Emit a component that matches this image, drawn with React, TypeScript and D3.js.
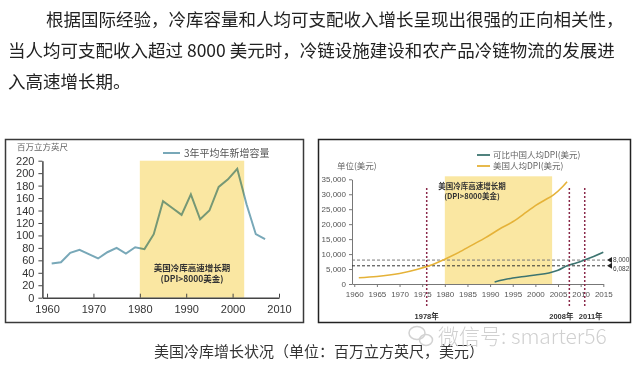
import { useEffect, useRef } from "react";
import * as d3 from "d3";

// page text
const paragraphLines = [
  "根据国际经验，冷库容量和人均可支配收入增长呈现出很强的正向相关性，",
  "当人均可支配收入超过 8000 美元时，冷链设施建设和农产品冷链物流的发展进",
  "入高速增长期。",
];
const caption = "美国冷库增长状况（单位：百万立方英尺，美元）";
const watermark = "微信号: smarter56";

// left chart: 3-year average new cold storage capacity
const capYears = [1961, 1963, 1965, 1967, 1969, 1971, 1973, 1975, 1977, 1979, 1981, 1983, 1985, 1987, 1989, 1991, 1993, 1995, 1997, 1999, 2001, 2003, 2005, 2007];
const capValues = [55, 57, 72, 77, 70, 63, 73, 80, 71, 81, 78, 102, 155, 144, 133, 166, 126, 140, 178, 190, 207, 150, 102, 94];
const leftYTicks = [0, 20, 40, 60, 80, 100, 120, 140, 160, 180, 200, 220];
const leftXTicks = [1960, 1970, 1980, 1990, 2000, 2010];
const leftBand = [1980, 2002.5];
const leftBandText = ["美国冷库高速增长期", "(DPI>8000美金)"];

// right chart: per capita DPI
const usYears = [1961, 1965, 1970, 1974, 1978, 1980, 1983, 1986, 1989, 1992, 1995, 1998, 2000, 2002, 2004, 2006, 2007];
const usValues = [2100, 2500, 3500, 4900, 6900, 8300, 10500, 13000, 15500, 18300, 20800, 24000, 26200, 28000, 29800, 32500, 34200];
const cnYears = [1991, 1993, 1995, 1998, 2000, 2003, 2005, 2007, 2009, 2011, 2013, 2015];
const cnValues = [700, 1400, 2000, 2600, 3000, 3700, 4600, 6100, 7000, 8100, 9300, 10600];
const rightYTicks = [0, 5000, 10000, 15000, 20000, 25000, 30000, 35000];
const rightXTicks = [1960, 1965, 1970, 1975, 1980, 1985, 1990, 1995, 2000, 2005, 2010, 2015];
const rightBand = [1980, 2003.7];
const rightBandTop = 36000;
const refValues = [8000, 6082];
const refLabels = ["8,000", "6,082"];
const markYears = [1976, 2007.5, 2010.9];
const markLabels = ["1978年", "2008年", "2011年"];
const rightLegend = ["可比中国人均DPI(美元)", "美国人均DPI(美元)"];

const CJK = "'Noto Sans CJK SC', sans-serif";
const SANS = "'Liberation Sans', 'Noto Sans CJK SC', sans-serif";

export default function App() {
  const svgRef = useRef<SVGSVGElement>(null);

  useEffect(() => {
    if (!svgRef.current) return;
    const svg = d3.select(svgRef.current);
    svg.selectAll("*").remove();

    // paragraph
    svg
      .selectAll("text.para")
      .data(paragraphLines)
      .join("text")
      .attr("class", "para")
      .attr("x", (_, i) => (i === 0 ? 46 : 8))
      .attr("y", (_, i) => 26 + i * 31)
      .attr("font-family", CJK)
      .attr("font-size", 17.5)
      .attr("fill", "#222")
      .text((d) => d);

    // ---------- left chart ----------
    const lx = d3.scaleLinear().domain([1959, 2010]).range([42.4, 279]);
    const ly = d3.scaleLinear().domain([0, 220]).range([297.7, 160.7]);
    const left = svg.append("g");

    left
      .append("rect")
      .attr("x", 5.5)
      .attr("y", 139.5)
      .attr("width", 298)
      .attr("height", 183)
      .attr("fill", "#fff")
      .attr("stroke", "#3a3a3a")
      .attr("stroke-width", 1.5);

    const capData = capYears.map((y, i) => ({ x: y, y: capValues[i] }));
    left
      .append("path")
      .datum(capData)
      .attr("fill", "none")
      .attr("stroke", "#78a8b8")
      .attr("stroke-width", 2)
      .attr("d", d3.line<{ x: number; y: number }>().x((d) => lx(d.x)).y((d) => ly(d.y)));

    left
      .append("rect")
      .attr("x", lx(leftBand[0]))
      .attr("y", ly(220))
      .attr("width", lx(leftBand[1]) - lx(leftBand[0]))
      .attr("height", ly(0) - ly(220))
      .attr("fill", "#fae7a2")
      .style("mix-blend-mode", "multiply");

    left
      .selectAll("text.band")
      .data(leftBandText)
      .join("text")
      .attr("x", (lx(leftBand[0]) + lx(leftBand[1])) / 2)
      .attr("y", (_, i) => 271 + i * 10.5)
      .attr("text-anchor", "middle")
      .attr("font-family", CJK)
      .attr("font-size", 8.5)
      .attr("font-weight", "bold")
      .attr("fill", "#333")
      .text((d) => d);

    const lyAxis = left
      .append("g")
      .attr("transform", `translate(${lx(1959)},0)`)
      .call(d3.axisLeft(ly).tickValues(leftYTicks).tickSize(4).tickSizeOuter(0).tickPadding(4));
    const lxAxis = left
      .append("g")
      .attr("transform", `translate(0,${ly(0)})`)
      .call(
        d3
          .axisBottom(lx)
          .tickValues(leftXTicks)
          .tickSize(-4)
          .tickSizeOuter(0)
          .tickPadding(8)
          .tickFormat(d3.format("d"))
      );
    [lyAxis, lxAxis].forEach((g) => {
      g.attr("font-family", SANS).attr("font-size", 11).attr("color", "#444");
      g.selectAll("text").attr("fill", "#333");
      g.select(".domain").attr("stroke-width", 1.5);
    });

    left
      .append("text")
      .attr("x", 17)
      .attr("y", 150)
      .attr("font-family", CJK)
      .attr("font-size", 8.5)
      .attr("fill", "#666")
      .text("百万立方英尺");

    left
      .append("line")
      .attr("x1", 163)
      .attr("x2", 180)
      .attr("y1", 153)
      .attr("y2", 153)
      .attr("stroke", "#78a8b8")
      .attr("stroke-width", 2);
    left
      .append("text")
      .attr("x", 184)
      .attr("y", 156.5)
      .attr("font-family", CJK)
      .attr("font-size", 10)
      .attr("fill", "#555")
      .text("3年平均年新增容量");

    // ---------- right chart ----------
    const rx = d3.scaleLinear().domain([1959.5, 2015]).range([352, 603.3]);
    const ry = d3.scaleLinear().domain([0, 35000]).range([284, 179.3]);
    const right = svg.append("g");

    right
      .append("rect")
      .attr("x", 318.5)
      .attr("y", 139.5)
      .attr("width", 312)
      .attr("height", 183)
      .attr("fill", "#fff")
      .attr("stroke", "#222")
      .attr("stroke-width", 1.5);

    right
      .append("rect")
      .attr("x", rx(rightBand[0]))
      .attr("y", ry(rightBandTop))
      .attr("width", rx(rightBand[1]) - rx(rightBand[0]))
      .attr("height", ry(0) - ry(rightBandTop))
      .attr("fill", "#fae7a2");

    right
      .selectAll("text.band")
      .data(leftBandText)
      .join("text")
      .attr("x", 472)
      .attr("y", (_, i) => 189 + i * 10)
      .attr("text-anchor", "middle")
      .attr("font-family", CJK)
      .attr("font-size", 7.5)
      .attr("font-weight", "bold")
      .attr("fill", "#333")
      .text((d) => d);

    const ryAxis = right
      .append("g")
      .attr("transform", `translate(${rx(1959.5)},0)`)
      .call(
        d3
          .axisLeft(ry)
          .tickValues(rightYTicks)
          .tickSize(3)
          .tickSizeOuter(0)
          .tickPadding(3)
          .tickFormat((d) => d3.format(",")(d as number))
      );
    const rxAxis = right
      .append("g")
      .attr("transform", `translate(0,${ry(0)})`)
      .call(d3.axisBottom(rx).tickValues(rightXTicks).tickSize(3).tickSizeOuter(0).tickPadding(4).tickFormat(d3.format("d")));
    [ryAxis, rxAxis].forEach((g) => {
      g.attr("font-family", SANS).attr("font-size", 8).attr("color", "#777");
      g.selectAll("text").attr("fill", "#555");
    });

    // reference lines
    right
      .selectAll("line.ref")
      .data(refValues)
      .join("line")
      .attr("x1", rx(1959.5))
      .attr("x2", 606)
      .attr("y1", (d) => ry(d))
      .attr("y2", (d) => ry(d))
      .attr("stroke", (_, i) => (i === 0 ? "#777" : "#333"))
      .attr("stroke-width", 1)
      .attr("stroke-dasharray", "3,2");
    right
      .selectAll("path.tri")
      .data(refValues)
      .join("path")
      .attr("d", (d) => `M607,${ry(d)}L612,${ry(d) - 3}L612,${ry(d) + 3}Z`)
      .attr("fill", "#222");
    right
      .selectAll("text.ref")
      .data(refLabels)
      .join("text")
      .attr("x", 613)
      .attr("y", (_, i) => ry(refValues[i]) + (i === 0 ? 1.5 : 5))
      .attr("font-family", SANS)
      .attr("font-size", 6.5)
      .attr("fill", "#444")
      .text((d) => d);

    const line = d3
      .line<{ x: number; y: number }>()
      .x((d) => rx(d.x))
      .y((d) => ry(d.y))
      .curve(d3.curveMonotoneX);
    right
      .append("path")
      .datum(usYears.map((y, i) => ({ x: y, y: usValues[i] })))
      .attr("fill", "none")
      .attr("stroke", "#e5b238")
      .attr("stroke-width", 1.6)
      .attr("d", line);
    right
      .append("path")
      .datum(cnYears.map((y, i) => ({ x: y, y: cnValues[i] })))
      .attr("fill", "none")
      .attr("stroke", "#3d7470")
      .attr("stroke-width", 1.6)
      .attr("d", line);

    // year markers
    right
      .selectAll("line.mark")
      .data(markYears)
      .join("line")
      .attr("x1", (d) => rx(d))
      .attr("x2", (d) => rx(d))
      .attr("y1", 188)
      .attr("y2", 308)
      .attr("stroke", "#8a2a4a")
      .attr("stroke-width", 1.5)
      .attr("stroke-dasharray", "2,2");
    right
      .selectAll("text.mark")
      .data(markLabels)
      .join("text")
      .attr("x", (_, i) => rx(markYears[i]) + (i === 1 ? -8 : i === 2 ? 6 : 0))
      .attr("y", 319)
      .attr("text-anchor", "middle")
      .attr("font-family", SANS)
      .attr("font-size", 7.5)
      .attr("font-weight", "bold")
      .attr("fill", "#333")
      .text((d) => d);

    // legend and unit
    right
      .append("text")
      .attr("x", 337)
      .attr("y", 169)
      .attr("font-family", CJK)
      .attr("font-size", 8.5)
      .attr("fill", "#666")
      .text("单位(美元)");
    const legColors = ["#3d7470", "#e5b238"];
    right
      .selectAll("line.leg")
      .data(rightLegend)
      .join("line")
      .attr("x1", 477)
      .attr("x2", 490)
      .attr("y1", (_, i) => 155 + i * 11)
      .attr("y2", (_, i) => 155 + i * 11)
      .attr("stroke", (_, i) => legColors[i])
      .attr("stroke-width", 1.8);
    right
      .selectAll("text.leg")
      .data(rightLegend)
      .join("text")
      .attr("x", 493)
      .attr("y", (_, i) => 158 + i * 11)
      .attr("font-family", CJK)
      .attr("font-size", 8.5)
      .attr("fill", "#666")
      .text((d) => d);

    // caption and watermark
    svg
      .append("text")
      .attr("x", 319)
      .attr("y", 357)
      .attr("text-anchor", "middle")
      .attr("font-family", CJK)
      .attr("font-size", 15)
      .attr("fill", "#333")
      .text(caption);

    const wm = svg.append("g").attr("fill", "none").attr("stroke", "#d2d2d2").attr("stroke-width", 1.5);
    wm.append("ellipse").attr("cx", 417).attr("cy", 333).attr("rx", 8).attr("ry", 6.5);
    wm.append("ellipse").attr("cx", 426).attr("cy", 340).attr("rx", 6.5).attr("ry", 5.5);
    svg
      .append("text")
      .attr("x", 438)
      .attr("y", 344)
      .attr("font-family", CJK)
      .attr("font-size", 21)
      .attr("font-weight", 300)
      .attr("fill", "#d0d0d0")
      .text(watermark);
  }, []);

  return (
    <svg
      ref={svgRef}
      width={640}
      height={370}
      style={{ position: "absolute", left: 0, top: 0, background: "#fff" }}
    />
  );
}
